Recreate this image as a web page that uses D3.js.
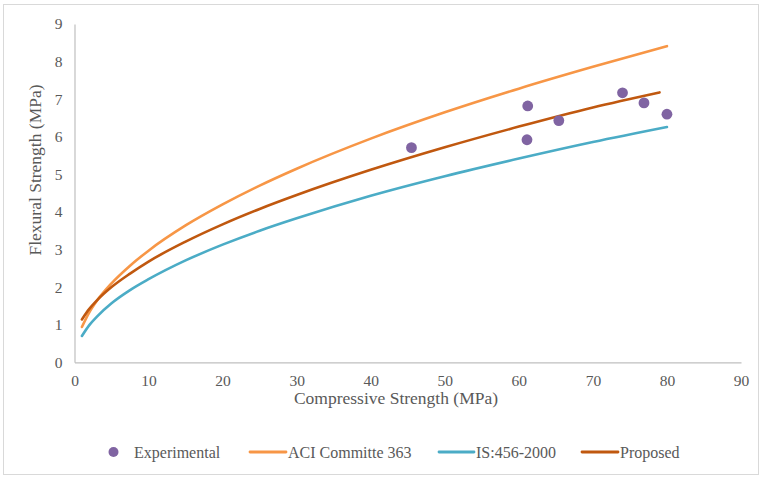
<!DOCTYPE html>
<html>
<head>
<meta charset="utf-8">
<script src="https://cdn.jsdelivr.net/npm/d3@7/dist/d3.min.js"></script>
<style>
  html, body { margin: 0; padding: 0; background: #fff; }
  svg { display: block; }
  svg text { font-family: "Times New Roman", "Liberation Serif", Tinos, "DejaVu Serif", serif !important; fill: #595959; }
</style>
</head>
<body>
<div id="chart"></div>
<script>
// Experimental results: compressive strength (MPa) vs flexural strength (MPa)
const expFc = [45.5, 61.2, 61.1, 65.4, 74.0, 76.9, 80.0];
const expFr = [5.71, 6.82, 5.92, 6.43, 7.17, 6.90, 6.60];

// Code / model curves, sampled along compressive strength
const curveFc    = [1, 2, 3, 5, 7.5, 10, 15, 20, 25, 30, 40, 50, 60, 70, 80];
const aciFr      = [0.94, 1.33, 1.63, 2.10, 2.57, 2.97, 3.64, 4.20, 4.70, 5.15, 5.95, 6.65, 7.28, 7.86, 8.41];
const isFr       = [0.70, 0.99, 1.21, 1.57, 1.92, 2.21, 2.71, 3.13, 3.50, 3.83, 4.43, 4.95, 5.42, 5.86, 6.26];
const proposedFc = [1, 2, 3, 5, 7.5, 10, 15, 20, 25, 30, 40, 50, 60, 70, 79];
const proposedFr = [1.14, 1.42, 1.64, 2.00, 2.36, 2.68, 3.21, 3.67, 4.08, 4.45, 5.12, 5.72, 6.27, 6.78, 7.18];

const xTicks = [0, 10, 20, 30, 40, 50, 60, 70, 80, 90];
const yTicks = [0, 1, 2, 3, 4, 5, 6, 7, 8, 9];

const seriesNames = ["Experimental", "ACI Committe 363", "IS:456-2000", "Proposed"];
const colors = { exp: "#8064A2", aci: "#F79646", is: "#4BACC6", prop: "#C0580F" };

const W = 759, H = 477;
const FONT = "'Times New Roman', 'Liberation Serif', Tinos, 'DejaVu Serif', serif";
const svg = d3.select("#chart").append("svg").attr("width", W).attr("height", H);

// outer frame
svg.append("rect").attr("x", 3.5).attr("y", 4.5).attr("width", W - 4).attr("height", H - 7)
  .attr("fill", "#fff").attr("stroke", "#d9d9d9").attr("stroke-width", 1);

const x = d3.scaleLinear().domain([0, 90]).range([74.5, 741]);
const y = d3.scaleLinear().domain([0, 9]).range([362.3, 24]);

// axes
const xAxis = svg.append("g").attr("transform", `translate(0,${y(0)})`)
  .attr("font-family", FONT)
  .call(d3.axisBottom(x).tickValues(xTicks).tickSize(0).tickPadding(13).tickFormat(d3.format("d")));
xAxis.attr("font-family", FONT);
xAxis.select(".domain").attr("stroke", "#bfbfbf").attr("stroke-width", 1.2);
xAxis.selectAll("text").attr("font-size", 15.5).attr("fill", "#595959");

const yAxis = svg.append("g").attr("transform", `translate(${x(0)},0)`)
  .call(d3.axisLeft(y).tickValues(yTicks).tickSize(0).tickPadding(12).tickFormat(d3.format("d")));
yAxis.attr("font-family", FONT);
yAxis.select(".domain").attr("stroke", "#bfbfbf").attr("stroke-width", 1.2);
yAxis.selectAll("text").attr("font-size", 15.5).attr("fill", "#595959");

// axis titles
svg.append("text").attr("x", 396).attr("y", 404).attr("text-anchor", "middle")
  .attr("font-family", FONT).attr("font-size", 17.5).text("Compressive Strength (MPa)");
svg.append("text").attr("transform", "translate(41,170) rotate(-90)").attr("text-anchor", "middle")
  .attr("font-family", FONT).attr("font-size", 17.5).text("Flexural Strength (MPa)");

// curves
const line = d3.line().x(d => x(d[0])).y(d => y(d[1])).curve(d3.curveMonotoneX);
const drawCurve = (xs, ys, color) =>
  svg.append("path").datum(xs.map((v, i) => [v, ys[i]]))
    .attr("d", line).attr("fill", "none").attr("stroke", color)
    .attr("stroke-width", 2.6).attr("stroke-linecap", "round");

drawCurve(curveFc, aciFr, colors.aci);
drawCurve(curveFc, isFr, colors.is);
drawCurve(proposedFc, proposedFr, colors.prop);

// experimental points
svg.append("g").selectAll("circle").data(expFc.map((v, i) => [v, expFr[i]]))
  .join("circle").attr("cx", d => x(d[0])).attr("cy", d => y(d[1])).attr("r", 5.4)
  .attr("fill", colors.exp);

// legend
const ly = 452;
const lg = svg.append("g").attr("font-family", FONT);
lg.append("circle").attr("cx", 113.5).attr("cy", ly).attr("r", 5).attr("fill", colors.exp);
lg.append("text").attr("x", 134).attr("y", ly + 5.5).attr("font-size", 16).text(seriesNames[0]);

const legendLines = [
  { x0: 250, x1: 286, color: colors.aci, tx: 288, name: seriesNames[1] },
  { x0: 439, x1: 474, color: colors.is, tx: 476, name: seriesNames[2] },
  { x0: 582, x1: 618, color: colors.prop, tx: 620, name: seriesNames[3] }
];
legendLines.forEach(l => {
  lg.append("line").attr("x1", l.x0).attr("x2", l.x1).attr("y1", ly).attr("y2", ly)
    .attr("stroke", l.color).attr("stroke-width", 2.8).attr("stroke-linecap", "round");
  lg.append("text").attr("x", l.tx).attr("y", ly + 5.5).attr("font-size", 16).text(l.name);
});
</script>
</body>
</html>
